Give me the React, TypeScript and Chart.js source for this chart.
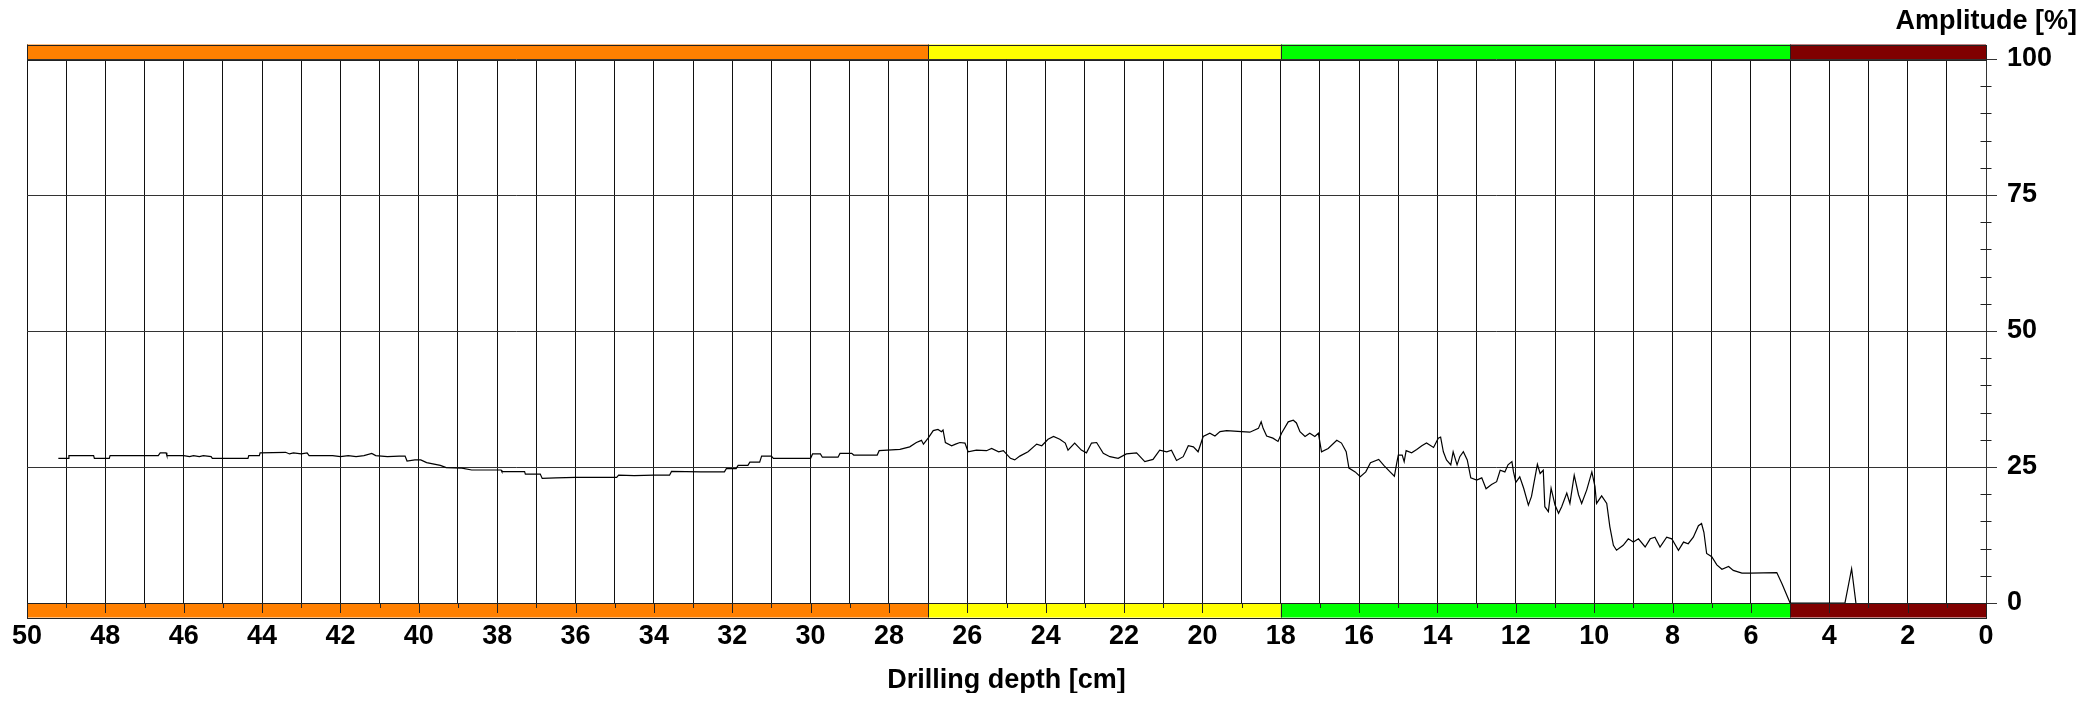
import React, { useEffect, useRef } from "react";
import { Chart, registerables } from "chart.js";

Chart.register(...registerables);

// Drilling depth [cm] of each sample
const depth: number[] = [
  49.2, 48.95, 48.93, 48.3, 48.28, 47.9, 47.88, 46.65, 46.6, 46.45,
  46.43, 46.0, 45.85, 45.75, 45.6, 45.5, 45.3, 45.27, 44.36, 44.34,
  44.07, 44.05, 43.4, 43.3, 43.2, 43.0, 42.85, 42.8, 42.2, 42.0,
  41.8, 41.6, 41.4, 41.2, 41.1, 40.8, 40.5, 40.35, 40.3, 40.1,
  39.95, 39.8, 39.45, 39.3, 38.9, 38.65, 37.9, 37.88, 37.3, 37.28,
  36.9, 36.85, 36.5, 36.0, 35.5, 34.95, 34.9, 34.5, 34.0, 33.6,
  33.55, 32.8, 32.2, 32.15, 31.9, 31.85, 31.6, 31.55, 31.3, 31.25,
  31.0, 30.95, 30.5, 30.0, 29.95, 29.75, 29.7, 29.3, 29.25, 28.95,
  28.9, 28.3, 28.25, 27.72, 27.47, 27.3, 27.17, 27.12, 27.0, 26.87,
  26.75, 26.66, 26.62, 26.56, 26.4, 26.3, 26.19, 26.06, 25.98, 25.77,
  25.51, 25.38, 25.2, 25.08, 24.9, 24.79, 24.66, 24.45, 24.23, 24.1,
  23.94, 23.8, 23.64, 23.5, 23.43, 23.26, 23.09, 22.96, 22.83, 22.7,
  22.53, 22.36, 22.15, 21.94, 21.68, 21.47, 21.26, 21.09, 20.91, 20.79,
  20.66, 20.49, 20.36, 20.23, 20.11, 19.98, 19.81, 19.68, 19.55, 19.38,
  19.0, 18.79, 18.57, 18.5, 18.45, 18.36, 18.2, 18.07, 17.98, 17.81,
  17.68, 17.6, 17.51, 17.38, 17.26, 17.13, 17.04, 16.96, 16.79, 16.57,
  16.45, 16.33, 16.26, 16.1, 15.97, 15.83, 15.71, 15.5, 15.37, 15.21,
  15.1, 15.04, 15.0, 14.9, 14.85, 14.8, 14.66, 14.53, 14.4, 14.28,
  14.1, 13.98, 13.92, 13.85, 13.77, 13.66, 13.6, 13.5, 13.43, 13.34,
  13.24, 13.15, 13.0, 12.87, 12.76, 12.62, 12.49, 12.4, 12.28, 12.2,
  12.1, 12.06, 12.0, 11.9, 11.8, 11.68, 11.6, 11.54, 11.45, 11.38,
  11.3, 11.26, 11.17, 11.1, 11.0, 10.91, 10.83, 10.7, 10.62, 10.51,
  10.4, 10.32, 10.19, 10.06, 9.98, 9.94, 9.81, 9.68, 9.6, 9.51,
  9.43, 9.26, 9.13, 9.0, 8.87, 8.7, 8.57, 8.45, 8.32, 8.15,
  8.02, 7.85, 7.72, 7.6, 7.47, 7.34, 7.26, 7.2, 7.13, 7.0,
  6.87, 6.74, 6.57, 6.45, 6.23, 6.02, 5.34, 5.21, 5.0, 3.6,
  3.43, 3.32,
];

// Amplitude [%] of each sample
const amplitude: number[] = [
  26.6, 26.6, 27.1, 27.1, 26.6, 26.6, 27.1, 27.1, 27.6, 27.6,
  27.1, 27.1, 26.9, 27.1, 26.9, 27.1, 26.9, 26.6, 26.6, 27.1,
  27.1, 27.6, 27.7, 27.4, 27.6, 27.4, 27.6, 27.1, 27.1, 26.9,
  27.1, 26.9, 27.1, 27.5, 27.1, 26.9, 27.0, 27.0, 26.1, 26.3,
  26.3, 25.8, 25.3, 24.9, 24.8, 24.45, 24.45, 24.15, 24.15, 23.7,
  23.7, 22.9, 23.0, 23.1, 23.1, 23.1, 23.5, 23.4, 23.5, 23.5,
  24.2, 24.1, 24.1, 24.7, 24.7, 25.3, 25.3, 25.9, 25.9, 27.0,
  27.0, 26.6, 26.6, 26.6, 27.4, 27.4, 26.8, 26.8, 27.5, 27.5,
  27.2, 27.2, 28.0, 28.25, 28.7, 29.5, 29.9, 29.2, 30.3, 31.7,
  31.9, 31.5, 31.8, 29.5, 28.9, 29.2, 29.5, 29.4, 27.8, 28.1,
  28.0, 28.4, 27.8, 28.0, 26.6, 26.3, 27.0, 27.8, 29.2, 28.9,
  30.1, 30.6, 30.1, 29.4, 28.1, 29.4, 28.1, 27.6, 29.4, 29.5,
  27.5, 26.9, 26.6, 27.4, 27.6, 26.0, 26.4, 28.1, 27.8, 28.1,
  26.2, 26.9, 28.9, 28.7, 27.8, 30.6, 31.2, 30.7, 31.5, 31.7,
  31.5, 31.4, 32.1, 33.3, 32.1, 30.7, 30.3, 29.7, 31.2, 33.3,
  33.6, 33.1, 31.5, 30.6, 31.2, 30.6, 31.2, 27.8, 28.4, 29.9,
  29.4, 27.8, 24.8, 24.1, 23.2, 24.1, 25.8, 26.4, 25.3, 24.1,
  23.3, 25.7, 27.2, 27.2, 26.0, 28.0, 27.6, 28.2, 28.9, 29.4,
  28.6, 30.3, 30.5, 27.8, 26.3, 25.4, 27.8, 25.4, 26.9, 27.8,
  26.3, 23.0, 22.6, 23.0, 21.0, 21.8, 22.3, 24.4, 24.1, 25.4,
  26.0, 24.1, 22.2, 23.2, 21.1, 18.0, 19.6, 22.0, 25.5, 23.8,
  24.4, 17.7, 16.8, 21.1, 18.0, 16.5, 17.7, 20.2, 18.3, 23.5,
  19.9, 18.3, 20.8, 24.1, 21.4, 18.3, 19.7, 18.3, 14.0, 10.6,
  9.7, 10.6, 11.8, 11.2, 11.8, 10.3, 11.8, 12.1, 10.3, 12.1,
  11.8, 9.7, 11.2, 10.9, 12.1, 14.2, 14.6, 13.0, 9.1, 8.5,
  7.0, 6.2, 6.7, 6.0, 5.5, 5.5, 5.6, 3.6, 0, 0,
  6.3, 0,
];

// Colored material zones along the drilling depth
const zoneStart: number[] = [50, 27, 18, 5];
const zoneEnd: number[] = [27, 18, 5, 0];
const zoneColors: string[] = ["#FF8000", "#FFFF00", "#00FF00", "#800000"];

const yTicks: number[] = [0, 25, 50, 75, 100];

const FONT = "'Liberation Sans', Arial, Helvetica, sans-serif";

const decorPlugin = {
  id: "decor",
  beforeDatasetsDraw(chart: any) {
    const { ctx, chartArea, scales } = chart;
    const xs = scales.x;
    const ys = scales.y;
    const top = chartArea.top;
    const bottom = chartArea.bottom;
    const barH = 14.5;
    ctx.save();
    for (let i = 0; i < zoneStart.length; i++) {
      const x1 = xs.getPixelForValue(zoneStart[i]);
      const x2 = xs.getPixelForValue(zoneEnd[i]);
      ctx.fillStyle = zoneColors[i];
      ctx.fillRect(x1, top - barH, x2 - x1, barH);
      ctx.fillRect(x1, bottom, x2 - x1, barH);
    }
    ctx.strokeStyle = "#222";
    ctx.lineWidth = 1;
    for (let v = 0; v <= 50; v++) {
      const px = Math.round(xs.getPixelForValue(v)) + 0.5;
      const len = v % 2 === 0 ? 10 : 5;
      ctx.beginPath();
      ctx.moveTo(px, bottom);
      ctx.lineTo(px, bottom + len);
      ctx.stroke();
    }
    for (let i = 0; i < zoneStart.length; i++) {
      const px = Math.round(xs.getPixelForValue(zoneStart[i])) + 0.5;
      ctx.beginPath();
      ctx.moveTo(px, top - barH);
      ctx.lineTo(px, top);
      ctx.moveTo(px, bottom);
      ctx.lineTo(px, bottom + barH);
      ctx.stroke();
    }
    const L = Math.round(chartArea.left) + 0.5;
    const R = Math.round(chartArea.right) + 0.5;
    ctx.strokeRect(L, Math.round(top - barH) + 0.5, R - L, Math.round(barH));
    ctx.strokeRect(L, Math.round(bottom) + 0.5, R - L, Math.round(barH));
    for (let v = 5; v < 100; v += 5) {
      if (v % 25 === 0) continue;
      const py = Math.round(ys.getPixelForValue(v)) + 0.5;
      ctx.beginPath();
      ctx.moveTo(chartArea.right - 5.5, py);
      ctx.lineTo(chartArea.right + 5.5, py);
      ctx.stroke();
    }
    ctx.restore();
  },
  afterDraw(chart: any) {
    const { ctx } = chart;
    ctx.save();
    ctx.fillStyle = "#000";
    ctx.font = `bold 27px ${FONT}`;
    ctx.textAlign = "right";
    ctx.textBaseline = "alphabetic";
    ctx.fillText("Amplitude [%]", 2069, 20.5);
    ctx.restore();
  },
};

export default function App() {
  const ref = useRef<HTMLCanvasElement | null>(null);

  useEffect(() => {
    if (!ref.current) return;
    const points = depth.map((d, i) => ({ x: d, y: amplitude[i] }));
    const chart = new Chart(ref.current, {
      type: "line",
      data: {
        datasets: [
          {
            data: points,
            borderColor: "#000",
            borderWidth: 1.2,
            pointRadius: 0,
            tension: 0,
            fill: false,
          },
        ],
      },
      options: {
        animation: false,
        responsive: true,
        maintainAspectRatio: false,
        layout: { padding: { top: 51, left: 19, right: 0, bottom: 0 } },
        plugins: { legend: { display: false }, tooltip: { enabled: false }, title: { display: false } },
        scales: {
          x: {
            type: "linear",
            reverse: true,
            min: 0,
            max: 50,
            afterFit: (s: any) => {
              s.height = 90;
            },
            afterBuildTicks: (s: any) => {
              const t = [];
              for (let v = 0; v <= 50; v++) t.push({ value: v });
              s.ticks = t;
            },
            ticks: {
              autoSkip: false,
              maxRotation: 0,
              padding: 17,
              color: "#000",
              font: { family: FONT, size: 27, weight: "bold" },
              callback: (v: any) => (Number(v) % 2 === 0 ? String(v) : ""),
            },
            grid: { color: "#111", lineWidth: 1, drawTicks: false },
            border: { display: false },
            title: {
              display: true,
              text: "Drilling depth [cm]",
              color: "#000",
              font: { family: FONT, size: 27, weight: "bold", lineHeight: 0.9 },
              padding: { top: 0, bottom: 0 },
            },
          },
          y: {
            type: "linear",
            position: "right",
            min: 0,
            max: 100,
            afterFit: (s: any) => {
              s.width = 104;
            },
            afterBuildTicks: (s: any) => {
              s.ticks = yTicks.map((v) => ({ value: v }));
            },
            ticks: {
              padding: 10,
              color: "#000",
              font: { family: FONT, size: 27, weight: "bold" },
            },
            grid: { color: "#333", lineWidth: 1, tickLength: 11 },
            border: { display: true, color: "#333" },
          },
        },
      },
      plugins: [decorPlugin],
    });
    return () => chart.destroy();
  }, []);

  return (
    <div style={{ width: "100%", height: "685px", position: "relative" }}>
      <canvas ref={ref} />
    </div>
  );
}
